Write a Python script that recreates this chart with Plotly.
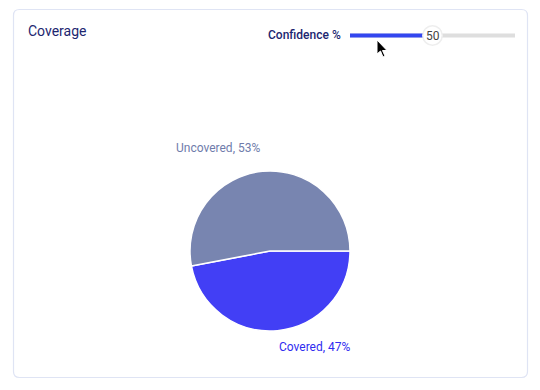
import plotly.graph_objects as go

OFF = 8  # default page body margin
W, H = 540 - OFF, 390 - OFF

# Data
labels = ["Covered", "Uncovered"]
values = [47, 53]
slice_colors = ["#423ff5", "#7885b0"]
label_colors = ["#2f2cf0", "#6f7cab"]
title_text = "Coverage"
slider_label = "Confidence %"
slider_value = 50
slider_min, slider_max = 0, 100


def px(x):
    return (x - OFF) / W


def py(y):
    return 1 - (y - OFF) / H


fig = go.Figure()

cx, cy, r = 270, 251, 80
fig.add_trace(go.Pie(
    labels=labels,
    values=values,
    sort=False,
    direction="clockwise",
    rotation=90,
    marker=dict(colors=slice_colors, line=dict(color="white", width=1.5)),
    textinfo="none",
    hoverinfo="label+percent",
    showlegend=False,
    domain=dict(x=[px(cx - r), px(cx + r)], y=[py(cy + r), py(cy - r)]),
))

shapes = []
# card border (rounded rect)
x0, y0, x1, y1, rr = 13.5, 9.5, 527.5, 377.5, 6
path = (f"M {px(x0+rr)} {py(y0)} L {px(x1-rr)} {py(y0)} "
        f"Q {px(x1)} {py(y0)} {px(x1)} {py(y0+rr)} "
        f"L {px(x1)} {py(y1-rr)} Q {px(x1)} {py(y1)} {px(x1-rr)} {py(y1)} "
        f"L {px(x0+rr)} {py(y1)} Q {px(x0)} {py(y1)} {px(x0)} {py(y1-rr)} "
        f"L {px(x0)} {py(y0+rr)} Q {px(x0)} {py(y0)} {px(x0+rr)} {py(y0)} Z")
shapes.append(dict(type="path", xref="paper", yref="paper", path=path,
                   line=dict(color="#dfe4f4", width=1.2), fillcolor="rgba(0,0,0,0)", layer="below"))

# slider
sx0, sx1, sy = 350, 515, 35.5
frac = (slider_value - slider_min) / (slider_max - slider_min)
sknob = sx0 + frac * (sx1 - sx0)
shapes.append(dict(type="line", xref="paper", yref="paper", x0=px(sx0), x1=px(sx1), y0=py(sy), y1=py(sy),
                   line=dict(color="#dedede", width=4)))
shapes.append(dict(type="line", xref="paper", yref="paper", x0=px(sx0), x1=px(sknob), y0=py(sy), y1=py(sy),
                   line=dict(color="#3346ef", width=4)))
kr = 9
shapes.append(dict(type="circle", xref="paper", yref="paper", x0=px(sknob - kr - 1.5), x1=px(sknob + kr + 1.5),
                   y0=py(sy + kr + 1.5), y1=py(sy - kr - 1.5), line=dict(width=0), fillcolor="#eeeeee"))
shapes.append(dict(type="circle", xref="paper", yref="paper", x0=px(sknob - kr), x1=px(sknob + kr),
                   y0=py(sy + kr), y1=py(sy - kr), line=dict(width=0), fillcolor="white"))

# cursor arrow
ax, ay = 377, 40
pts = [(0, 0), (0, 14), (3.5, 11), (6, 17), (8, 16), (5.5, 10.5), (10, 10.5)]
cpath = "M " + " L ".join(f"{px(ax+dx)} {py(ay+dy)}" for dx, dy in pts) + " Z"
shapes.append(dict(type="path", xref="paper", yref="paper", path=cpath,
                   line=dict(color="white", width=1), fillcolor="black"))

annotations = [
    dict(text=title_text, x=px(26), y=py(31), xref="paper", yref="paper", xanchor="left", yanchor="middle",
         showarrow=False, font=dict(size=14, color="#1c2670")),
    dict(text=slider_label, x=px(343), y=py(35), xref="paper", yref="paper", xanchor="right", yanchor="middle",
         showarrow=False, font=dict(size=12, color="#1c2670", weight=500)),
    dict(text=str(slider_value), x=px(sknob), y=py(36), xref="paper", yref="paper", xanchor="center",
         yanchor="middle", showarrow=False, font=dict(size=12, color="#444")),
    dict(text=f"{labels[1]}, {values[1]}%", x=px(218), y=py(148), xref="paper", yref="paper",
         xanchor="center", yanchor="middle", showarrow=False, font=dict(size=12, color=label_colors[1])),
    dict(text=f"{labels[0]}, {values[0]}%", x=px(315), y=py(347), xref="paper", yref="paper",
         xanchor="center", yanchor="middle", showarrow=False, font=dict(size=12, color=label_colors[0])),
]

fig.update_layout(
    width=W, height=H,
    margin=dict(l=0, r=0, t=0, b=0),
    paper_bgcolor="white",
    font=dict(family="Roboto, sans-serif"),
    shapes=shapes,
    annotations=annotations,
)

fig.write_html("out.html")
